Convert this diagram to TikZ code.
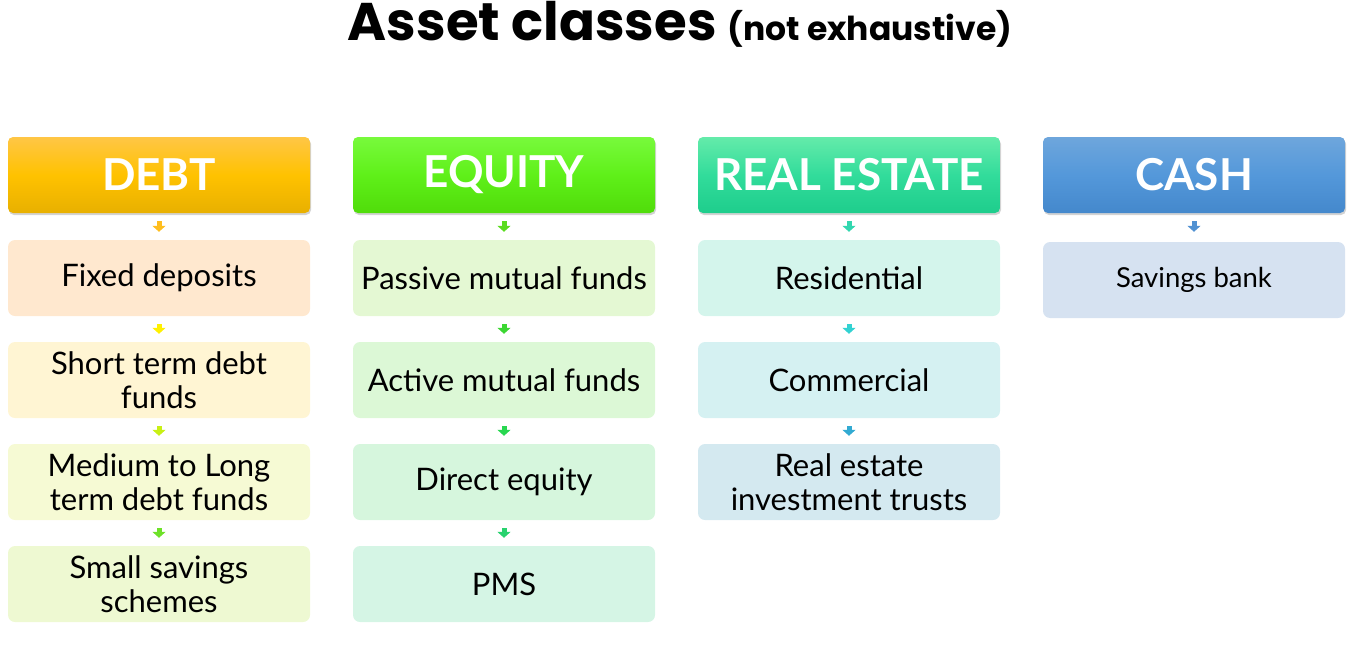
\documentclass[tikz,border=0pt]{standalone}
\usepackage{fontspec}
\setmainfont{Lato}
\newfontfamily\titlefont{Poppins}
\usetikzlibrary{arrows.meta,shadows}
\begin{document}
\begin{tikzpicture}[x=1pt,y=-1pt,
  hdr/.style={rounded corners=5pt,minimum width=302pt,minimum height=76pt,inner sep=0pt,text=white,font=\fontsize{44}{44}\selectfont\bfseries,drop shadow={shadow xshift=1pt,shadow yshift=-2pt,opacity=0.35}},
  box/.style={rounded corners=7pt,minimum width=302pt,minimum height=76pt,inner sep=2pt,align=center,font=\fontsize{31}{34}\selectfont},
  arr/.style={line width=5pt,-{Triangle[width=13pt,length=6pt]},shorten <=8pt,shorten >=8pt}]
\useasboundingbox (0,0) rectangle (1356,653);
\node[font=\titlefont\bfseries\fontsize{53}{53}\selectfont] (t) at (680,24) {Asset classes {\fontsize{33}{33}\selectfont(not exhaustive)}};
% DEBT
\node[hdr,top color={rgb,255:red,255;green,198;blue,70},bottom color={rgb,255:red,232;green,176;blue,0},middle color={rgb,255:red,255;green,194;blue,0}] (d0) at (159,175) {DEBT};
\node[box,fill={rgb,255:red,255;green,232;blue,207}] (d1) at (159,278) {Fixed deposits};
\node[box,fill={rgb,255:red,255;green,245;blue,211}] (d2) at (159,380) {Short term debt\\funds};
\node[box,fill={rgb,255:red,246;green,250;blue,212}] (d3) at (159,482) {Medium to Long\\term debt funds};
\node[box,fill={rgb,255:red,238;green,249;blue,210}] (d4) at (159,584) {Small savings\\schemes};
\draw[arr,color={rgb,255:red,255;green,190;blue,30}] (d0) -- (d1);
\draw[arr,color={rgb,255:red,255;green,240;blue,0}] (d1) -- (d2);
\draw[arr,color={rgb,255:red,200;green,240;blue,20}] (d2) -- (d3);
\draw[arr,color={rgb,255:red,110;green,225;blue,40}] (d3) -- (d4);
% EQUITY
\node[hdr,top color={rgb,255:red,120;green,250;blue,60},bottom color={rgb,255:red,80;green,220;blue,10},middle color={rgb,255:red,95;green,240;blue,25}] (e0) at (504,175) {EQUITY};
\node[box,fill={rgb,255:red,228;green,248;blue,211}] (e1) at (504,278) {Passive mutual funds};
\node[box,fill={rgb,255:red,220;green,248;blue,214}] (e2) at (504,380) {Active mutual funds};
\node[box,fill={rgb,255:red,214;green,246;blue,221}] (e3) at (504,482) {Direct equity};
\node[box,fill={rgb,255:red,213;green,245;blue,229}] (e4) at (504,584) {PMS};
\draw[arr,color={rgb,255:red,90;green,220;blue,30}] (e0) -- (e1);
\draw[arr,color={rgb,255:red,60;green,215;blue,50}] (e1) -- (e2);
\draw[arr,color={rgb,255:red,40;green,215;blue,80}] (e2) -- (e3);
\draw[arr,color={rgb,255:red,40;green,210;blue,110}] (e3) -- (e4);
% REAL ESTATE
\node[hdr,top color={rgb,255:red,100;green,235;blue,170},bottom color={rgb,255:red,30;green,205;blue,140},middle color={rgb,255:red,50;green,220;blue,155}] (r0) at (849,175) {REAL ESTATE};
\node[box,fill={rgb,255:red,212;green,245;blue,236}] (r1) at (849,278) {Residential};
\node[box,fill={rgb,255:red,213;green,241;blue,242}] (r2) at (849,380) {Commercial};
\node[box,fill={rgb,255:red,212;green,233;blue,240}] (r3) at (849,482) {Real estate\\investment trusts};
\draw[arr,color={rgb,255:red,50;green,215;blue,175}] (r0) -- (r1);
\draw[arr,color={rgb,255:red,50;green,210;blue,210}] (r1) -- (r2);
\draw[arr,color={rgb,255:red,50;green,170;blue,210}] (r2) -- (r3);
% CASH
\node[hdr,top color={rgb,255:red,110;green,166;blue,220},bottom color={rgb,255:red,68;green,136;blue,204},middle color={rgb,255:red,84;green,152;blue,218}] (c0) at (1194,175) {CASH};
\node[box,fill={rgb,255:red,214;green,226;blue,241},font=\fontsize{27.5}{30}\selectfont] (c1) at (1194,280) {Savings bank};
\draw[arr,color={rgb,255:red,80;green,145;blue,210},shorten >=10pt] (c0) -- (c1);
\end{tikzpicture}
\end{document}
